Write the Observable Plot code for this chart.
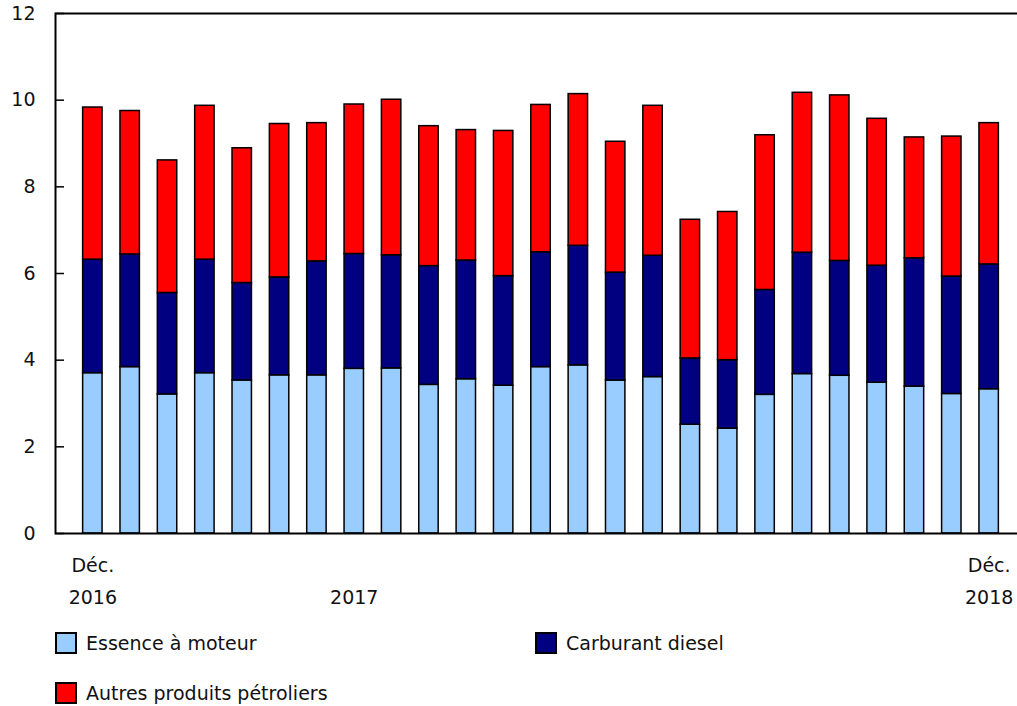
<!DOCTYPE html>
<html>
<head>
<meta charset="utf-8">
<script src="https://cdn.jsdelivr.net/npm/d3@7"></script>
<script src="https://cdn.jsdelivr.net/npm/@observablehq/plot@0.6"></script>
<style>
  html, body { margin: 0; padding: 0; overflow: hidden; background: #fff; width: 1017px; }
  body { font-family: "DejaVu Sans", Verdana, sans-serif; }
  #chart { width: 1017px; height: 613px; overflow: hidden; }
  #chart svg { max-width: none !important; }
  #legend { position: relative; width: 1017px; height: 93px; font-size: 19px; color: #111; }
  .item { position: absolute; display: flex; align-items: center; }
  .sw { width: 18px; height: 18px; border: 2px solid #000; margin-right: 9px; }
</style>
</head>
<body>
<div id="chart"></div>
<div id="legend"></div>
<script>
const months = ["2016-12","2017-01","2017-02","2017-03","2017-04","2017-05","2017-06","2017-07","2017-08","2017-09","2017-10","2017-11","2017-12","2018-01","2018-02","2018-03","2018-04","2018-05","2018-06","2018-07","2018-08","2018-09","2018-10","2018-11","2018-12"];
const essence = [3.70,3.84,3.21,3.70,3.53,3.65,3.65,3.80,3.81,3.43,3.56,3.41,3.84,3.88,3.53,3.61,2.51,2.42,3.20,3.68,3.64,3.48,3.39,3.22,3.33];
const diesel  = [2.62,2.60,2.34,2.62,2.25,2.26,2.63,2.65,2.61,2.74,2.74,2.53,2.65,2.76,2.49,2.80,1.53,1.58,2.42,2.80,2.65,2.70,2.96,2.71,2.88];
const autres  = [3.51,3.31,3.06,3.55,3.11,3.54,3.19,3.45,3.59,3.23,3.01,3.35,3.40,3.50,3.02,3.46,3.20,3.42,3.57,3.69,3.82,3.39,2.79,3.23,3.26];
const seriesNames = ["Essence à moteur","Carburant diesel","Autres produits pétroliers"];
const seriesColors = ["#99ccff","#000080","#ff0000"];
const yTicks = [0,2,4,6,8,10,12];
const monthLabels = [{month:"2016-12", text:"Déc."},{month:"2018-12", text:"Déc."}];
const yearLabels = [{month:"2016-12", text:"2016"},{month:"2017-07", text:"2017"},{month:"2018-12", text:"2018"}];

const rows = [];
[essence, diesel, autres].forEach((arr, s) => {
  arr.forEach((v, i) => rows.push({month: months[i], series: seriesNames[s], value: v}));
});

const chart = Plot.plot({
  width: 1026,
  height: 613,
  marginLeft: 55,
  marginRight: 0,
  marginTop: 13,
  marginBottom: 80,
  style: {fontFamily: "DejaVu Sans, Verdana, sans-serif", fontSize: "19px", color: "#111", background: "#fff", maxWidth: "none"},
  x: {domain: months, paddingInner: 0.48, paddingOuter: 0.74, round: false, axis: null},
  y: {domain: [0, 12], ticks: yTicks},
  color: {domain: seriesNames, range: seriesColors},
  marks: [
    Plot.barY(rows, {x: "month", y: "value", fill: "series", stroke: "#000", strokeWidth: 1.5}),
    Plot.frame({stroke: "#000", strokeWidth: 2}),
    Plot.axisY({ticks: yTicks, tickSize: 9, dx: 9, tickFormat: () => "", label: null, stroke: "#000", strokeWidth: 1.5}),
    Plot.axisY({ticks: yTicks, tickSize: 0, tickPadding: 20, label: null, fontSize: 19, fill: "#111"}),
    Plot.text(monthLabels, {x: "month", text: "text", frameAnchor: "bottom", dy: 32, lineAnchor: "middle", fontSize: 19, fill: "#111"}),
    Plot.text(yearLabels, {x: "month", text: "text", frameAnchor: "bottom", dy: 64, lineAnchor: "middle", fontSize: 19, fill: "#111"})
  ]
});
document.getElementById("chart").appendChild(chart);

const legend = document.getElementById("legend");
const positions = [[55, 19],[535, 19],[55, 69]];
seriesNames.forEach((name, i) => {
  const it = document.createElement("div");
  it.className = "item";
  it.style.left = positions[i][0] + "px";
  it.style.top = positions[i][1] + "px";
  const sw = document.createElement("span");
  sw.className = "sw";
  sw.style.background = seriesColors[i];
  const t = document.createElement("span");
  t.textContent = name;
  it.appendChild(sw);
  it.appendChild(t);
  legend.appendChild(it);
});
</script>
</body>
</html>
